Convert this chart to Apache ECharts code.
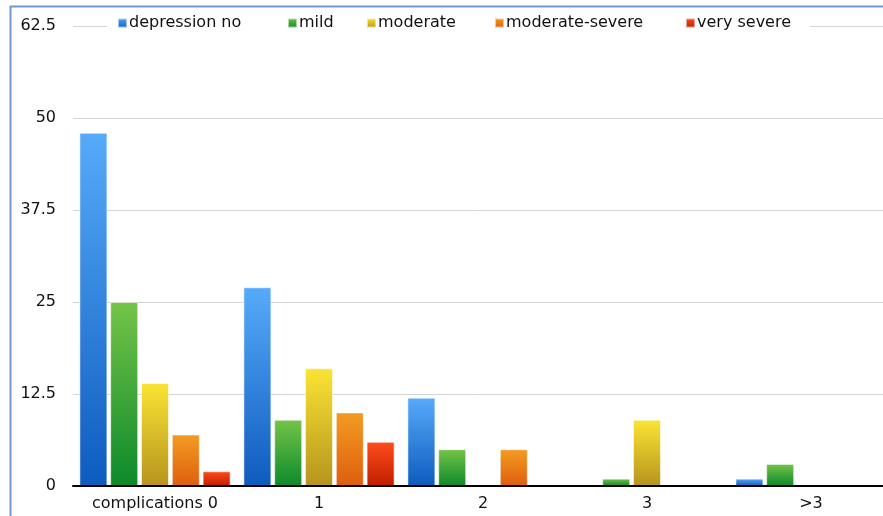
<!DOCTYPE html>
<html>
<head>
<meta charset="utf-8">
<script src="https://cdn.jsdelivr.net/npm/echarts@6/dist/echarts.min.js"></script>
<style>
html, body { margin: 0; padding: 0; background: #fff; }
#chart { width: 883px; height: 516px; }
</style>
</head>
<body>
<div id="chart"></div>
<script>
/*##################  complications vs depression  ##################*/
var categories = ['complications 0', '1', '2', '3', '>3'];
var seriesNames = ['depression no', 'mild', 'moderate', 'moderate-severe', 'very severe'];
var depressionNo = [48, 27, 12, 0, 1];
var mild = [25, 9, 5, 1, 3];
var moderate = [14, 16, 0, 9, 0];
var moderateSevere = [7, 10, 5, 0, 0];
var verySevere = [2, 6, 0, 0, 0];
var yTicks = [0, 12.5, 25, 37.5, 50, 62.5];

var values = [depressionNo, mild, moderate, moderateSevere, verySevere];
var colorPairs = [
    ['#56abf9', '#0e5bbf'],
    ['#74c448', '#0d892b'],
    ['#fbe434', '#b6941d'],
    ['#f29c22', '#df5e0e'],
    ['#ff4c1c', '#c01e00']
];
// legend icon positions
var legendLeft = [117, 287, 366, 494, 685];

function grad(pair) {
    return {
        type: 'linear', x: 0, y: 0, x2: 0, y2: 1,
        colorStops: [{offset: 0, color: pair[0]}, {offset: 1, color: pair[1]}]
    };
}

var font = 'DejaVu Sans';
var series = [];
var legends = [];
for (var i = 0; i < seriesNames.length; i++) {
    series.push({
        name: seriesNames[i],
        type: 'bar',
        data: values[i],
        barWidth: 28,
        barGap: '10%',
        itemStyle: {
            color: grad(colorPairs[i]),
            borderColor: 'rgba(255,255,255,0.55)',
            borderWidth: 1
        }
    });
    legends.push({
        data: [seriesNames[i]],
        left: legendLeft[i],
        top: 15,
        padding: 0,
        icon: 'rect',
        itemWidth: 9,
        itemHeight: 9,
        selectedMode: false,
        textStyle: {
            fontFamily: font,
            fontSize: 16,
            color: '#111',
            padding: [0, 0, 0, -3]
        }
    });
}

var option = {
    animation: false,
    backgroundColor: '#fff',
    graphic: [
        // white band behind the legend, hides the top grid line
        {type: 'rect', shape: {x: 107, y: 12, width: 703, height: 22}, style: {fill: '#fff'}, z: 3},
        {type: 'line', shape: {x1: 10.5, y1: 6, x2: 10.5, y2: 516}, style: {stroke: '#6f97d2', lineWidth: 2}, z: 10},
        {type: 'line', shape: {x1: 10, y1: 6.5, x2: 883, y2: 6.5}, style: {stroke: '#6f97d2', lineWidth: 2}, z: 10}
    ],
    legend: legends,
    grid: {
        left: 73,
        top: 26,
        width: 820,
        height: 460,
        outerBoundsMode: 'none'
    },
    xAxis: {
        type: 'category',
        data: categories,
        z: 5,
        axisTick: {show: false},
        axisLine: {lineStyle: {color: '#000', width: 2}},
        axisLabel: {
            fontFamily: font,
            fontSize: 16,
            color: '#111',
            margin: 10
        }
    },
    yAxis: {
        type: 'value',
        min: yTicks[0],
        max: yTicks[yTicks.length - 1],
        interval: yTicks[1] - yTicks[0],
        axisLine: {show: false},
        axisTick: {show: false},
        splitLine: {lineStyle: {color: '#d4d4d4', width: 1}},
        axisLabel: {
            fontFamily: font,
            fontSize: 16,
            color: '#111',
            margin: 17
        }
    },
    series: series
};

var myChart = echarts.init(document.getElementById('chart'));
myChart.setOption(option);
</script>
</body>
</html>
